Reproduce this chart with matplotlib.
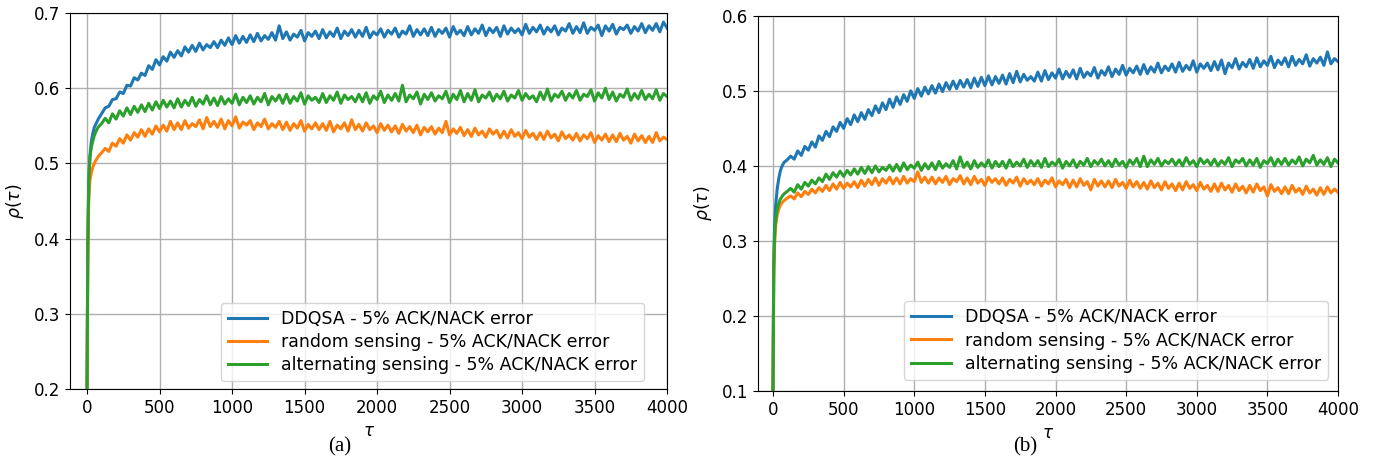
import numpy as np
import matplotlib
matplotlib.use('Agg')
import matplotlib.pyplot as plt

# sampling grid of tau (dense at the start, then every 25 steps)
tau_early = [0, 5, 10, 15, 20, 30, 40, 50, 60, 70, 80, 100]
tau = np.concatenate([tau_early, np.arange(125, 4001, 25)])

labels = ['DDQSA - 5% ACK/NACK error',
          'random sensing - 5% ACK/NACK error',
          'alternating sensing - 5% ACK/NACK error']
colors = ['#1f77b4', '#ff7f0e', '#2ca02c']

# values, in thousandths
ddqsa_a = [200, 380, 450, 490, 510, 530, 540, 548, 552, 556, 560, 566,
           574, 576, 585, 586, 595, 593, 604, 603, 614, 611,
           620, 617, 630, 625, 638, 631, 642, 636, 648, 641,
           650, 643, 655, 648, 657, 649, 660, 651, 658, 654,
           662, 654, 664, 657, 667, 658, 670, 660, 669, 661,
           671, 662, 673, 663, 670, 665, 674, 664, 683, 666,
           675, 664, 672, 668, 677, 663, 674, 669, 676, 666,
           678, 667, 675, 669, 680, 666, 676, 670, 678, 668,
           677, 669, 681, 667, 675, 671, 679, 668, 677, 672,
           680, 668, 676, 672, 683, 669, 678, 671, 679, 670,
           681, 669, 678, 673, 680, 668, 682, 672, 677, 670,
           682, 671, 679, 673, 684, 670, 680, 674, 681, 669,
           683, 672, 680, 674, 679, 671, 685, 673, 681, 675,
           684, 672, 681, 675, 683, 671, 680, 676, 686, 673,
           682, 674, 687, 673, 681, 677, 684, 670, 683, 676,
           685, 672, 681, 678, 684, 673, 682, 676, 686, 674,
           683, 677, 686, 675, 688, 680]

random_a = [200, 370, 440, 465, 478, 488, 495, 500, 504, 507, 510, 514,
            520, 516, 527, 523, 533, 527, 538, 531, 541, 535,
            545, 536, 546, 539, 550, 542, 551, 543, 556, 545,
            554, 545, 557, 547, 553, 549, 558, 546, 561, 549,
            556, 548, 559, 546, 557, 550, 562, 547, 555, 551,
            557, 545, 554, 549, 559, 546, 553, 548, 556, 545,
            555, 544, 553, 547, 557, 543, 552, 546, 554, 545,
            553, 544, 556, 542, 551, 546, 554, 543, 558, 545,
            552, 543, 554, 545, 550, 541, 553, 544, 551, 542,
            550, 540, 552, 543, 549, 541, 551, 538, 548, 542,
            549, 539, 547, 541, 556, 538, 546, 540, 548, 537,
            545, 536, 547, 538, 543, 535, 546, 539, 544, 534,
            543, 534, 545, 536, 541, 533, 544, 535, 540, 532,
            541, 532, 543, 534, 539, 530, 542, 533, 538, 531,
            540, 530, 538, 533, 541, 528, 537, 531, 539, 529,
            538, 529, 540, 531, 536, 527, 539, 530, 537, 528,
            536, 528, 541, 530, 535, 532]

altern_a = [200, 390, 455, 490, 508, 522, 530, 537, 542, 546, 549, 553,
            560, 554, 566, 559, 570, 563, 574, 565, 576, 568,
            578, 569, 580, 571, 582, 573, 584, 575, 583, 574,
            586, 575, 584, 577, 588, 576, 585, 579, 590, 578,
            587, 577, 589, 579, 586, 580, 592, 578, 588, 581,
            590, 579, 588, 582, 593, 578, 589, 583, 591, 580,
            592, 580, 589, 583, 594, 579, 590, 584, 588, 581,
            593, 581, 590, 584, 595, 580, 591, 585, 589, 582,
            592, 582, 594, 580, 590, 585, 596, 581, 591, 584,
            593, 583, 604, 582, 591, 586, 595, 579, 592, 585,
            594, 583, 590, 586, 596, 581, 592, 585, 597, 582,
            593, 584, 598, 582, 591, 587, 595, 583, 592, 586,
            596, 583, 591, 587, 597, 584, 593, 586, 590, 582,
            595, 585, 599, 583, 592, 588, 596, 584, 593, 587,
            597, 584, 592, 589, 598, 583, 594, 587, 600, 585,
            595, 583, 592, 588, 599, 584, 593, 586, 597, 585,
            592, 586, 598, 584, 593, 589]

ddqsa_b = [100, 260, 310, 335, 350, 370, 382, 392, 398, 402, 405, 408,
           413, 409, 420, 414, 426, 421, 432, 425, 440, 434,
           446, 439, 452, 446, 458, 450, 463, 455, 468, 459,
           471, 462, 475, 467, 480, 471, 484, 475, 489, 478,
           492, 482, 495, 486, 500, 490, 503, 493, 505, 496,
           507, 497, 509, 499, 511, 502, 513, 503, 514, 505,
           515, 504, 517, 506, 518, 507, 520, 508, 519, 510,
           521, 509, 523, 511, 526, 512, 522, 514, 519, 513,
           525, 513, 527, 515, 524, 517, 529, 516, 526, 518,
           528, 516, 530, 518, 525, 520, 531, 517, 527, 521,
           532, 519, 529, 522, 534, 521, 530, 524, 533, 522,
           535, 523, 532, 525, 537, 524, 533, 527, 536, 525,
           538, 526, 534, 528, 540, 525, 536, 530, 537, 527,
           539, 528, 541, 523, 537, 531, 543, 529, 538, 532,
           542, 530, 544, 532, 540, 534, 546, 531, 541, 535,
           544, 532, 546, 534, 542, 536, 548, 533, 543, 537,
           545, 534, 552, 536, 543, 539]

random_b = [100, 250, 290, 310, 322, 335, 342, 347, 350, 352, 354, 357,
            360, 356, 364, 359, 366, 362, 369, 364, 371, 366,
            374, 367, 376, 369, 378, 370, 377, 372, 379, 371,
            381, 373, 382, 375, 384, 374, 383, 377, 385, 376,
            384, 376, 386, 377, 383, 379, 392, 378, 385, 377,
            385, 376, 384, 378, 386, 375, 383, 379, 387, 376,
            384, 375, 386, 377, 382, 374, 385, 378, 383, 376,
            384, 374, 382, 377, 385, 373, 383, 376, 381, 375,
            383, 373, 381, 376, 384, 372, 380, 375, 382, 371,
            381, 372, 383, 374, 379, 368, 382, 373, 380, 372,
            380, 371, 382, 373, 378, 370, 381, 372, 379, 370,
            378, 369, 380, 371, 377, 368, 379, 370, 376, 367,
            377, 368, 379, 370, 375, 367, 378, 369, 374, 366,
            376, 366, 377, 368, 374, 365, 376, 367, 373, 364,
            374, 365, 376, 367, 372, 360, 375, 366, 371, 363,
            372, 363, 374, 365, 370, 362, 373, 364, 369, 361,
            371, 362, 372, 364, 369, 365]

altern_b = [100, 265, 300, 320, 330, 342, 350, 355, 358, 361, 363, 366,
            370, 365, 375, 369, 378, 373, 381, 376, 384, 379,
            389, 382, 391, 385, 393, 386, 394, 388, 396, 389,
            398, 390, 399, 391, 400, 392, 398, 394, 401, 393,
            402, 393, 404, 395, 401, 397, 405, 394, 403, 396,
            404, 395, 406, 397, 403, 398, 407, 396, 412, 398,
            405, 396, 407, 398, 404, 399, 408, 397, 406, 399,
            406, 397, 408, 399, 405, 400, 409, 398, 407, 400,
            407, 398, 410, 399, 405, 401, 409, 397, 406, 400,
            408, 398, 406, 401, 410, 399, 407, 402, 409, 400,
            407, 399, 409, 401, 406, 398, 408, 402, 410, 399,
            413, 399, 408, 402, 410, 400, 407, 403, 409, 401,
            408, 400, 411, 402, 407, 399, 410, 403, 408, 401,
            409, 400, 407, 402, 411, 399, 408, 404, 410, 400,
            408, 401, 410, 398, 407, 403, 411, 400, 409, 402,
            410, 401, 408, 403, 412, 400, 409, 404, 414, 401,
            408, 402, 411, 399, 409, 404]

panels = [
    dict(series=[ddqsa_a, random_a, altern_a], ylim=(0.2, 0.7),
         pos=[0.051, 0.165, 0.4345, 0.807], xlim=(-117, 4000), tag='(a)', tagx=0.247,
         leg=(0.962, 0.021)),
    dict(series=[ddqsa_b, random_b, altern_b], ylim=(0.1, 0.6),
         pos=[0.5517, 0.161, 0.4221, 0.805], xlim=(-106, 4000), tag='(b)', tagx=0.746,
         leg=(0.983, 0.03)),
]

fig = plt.figure(figsize=(13.74, 4.66), dpi=100)

for p in panels:
    ax = fig.add_axes(p['pos'])
    for vals, lab, col in zip(p['series'], labels, colors):
        ax.plot(tau, np.array(vals) / 1000.0, color=col, lw=2.2, label=lab)
    ax.set_xlim(*p['xlim'])
    ax.set_ylim(*p['ylim'])
    ax.set_xticks(np.arange(0, 4001, 500))
    ax.set_yticks(np.arange(p['ylim'][0], p['ylim'][1] + 0.01, 0.1))
    ax.tick_params(labelsize=12)
    ax.grid(True, color='#b0b0b0', lw=1)
    ax.set_xlabel(r'$\tau$', fontsize=12)
    ax.set_ylabel(r'$\rho(\tau)$', fontsize=12.5, labelpad=6)
    ax.legend(loc='lower right', bbox_to_anchor=p['leg'], borderaxespad=0,
              fontsize=12.5, labelspacing=0.3, handlelength=2.3)
    fig.text(p['tagx'], 0.02, p['tag'], family='Liberation Serif', fontsize=15,
             ha='center', va='bottom')

fig.savefig('out.png', dpi=100)
